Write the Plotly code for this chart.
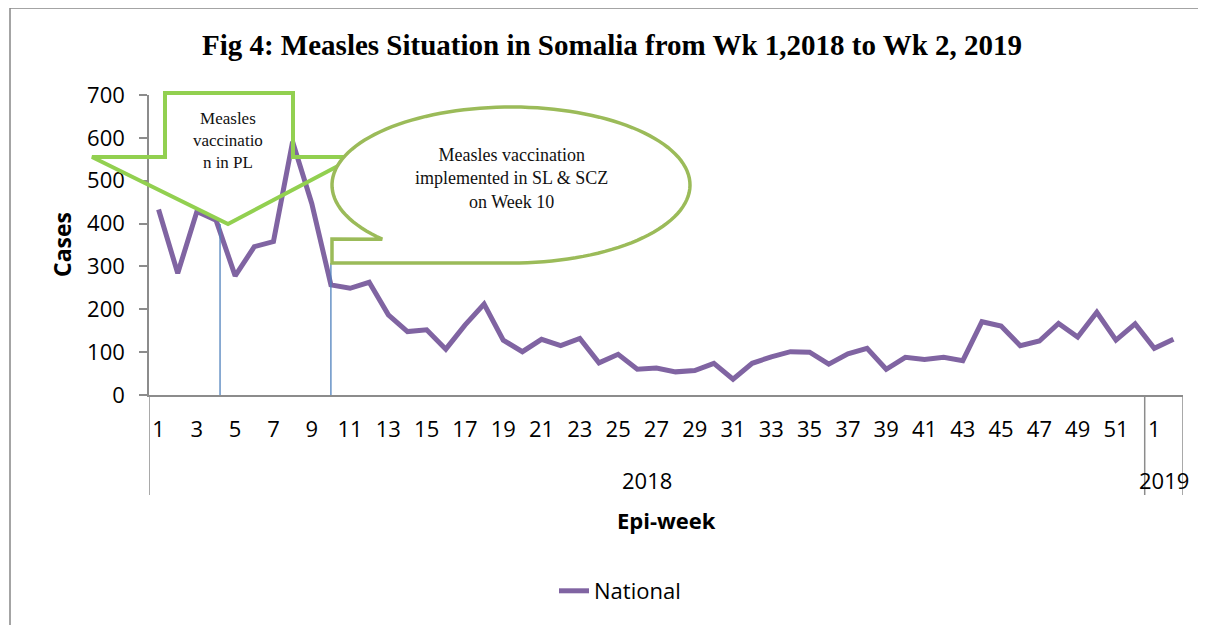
import numpy as np
import plotly.graph_objects as go

# ---------------- data ----------------
weeks_2018 = list(range(1, 53))
weeks_2019 = [1, 2]
cases_2018 = [433, 284, 428, 408, 278, 346, 358, 591, 447, 257,
              249, 263, 187, 148, 152, 107, 163, 212, 128, 101,
              130, 115, 132, 75, 95, 60, 63, 54, 57, 74,
              37, 74, 89, 101, 100, 72, 96, 109, 60, 88,
              83, 88, 80, 171, 161, 115, 126, 167, 135, 193,
              128, 166]
cases_2019 = [109, 130]
series_name = "National"
years = ["2018", "2019"]
y_ticks = [0, 100, 200, 300, 400, 500, 600, 700]

week_labels = [str(w) for w in weeks_2018] + [str(w) for w in weeks_2019]
cases = cases_2018 + cases_2019
xs = list(range(len(cases)))

# tick labels: every other week, like the reference
tick_idx = [i for i in xs if i % 2 == 0]
tick_txt = [week_labels[i] for i in tick_idx]

# ---------------- layout helpers (page pixel -> paper) ----------------
PAGE_W, PAGE_H = 1206, 625
OFF = 8  # default body margin of the html page
W, H = PAGE_W - OFF, PAGE_H - OFF
L, R, T, B = 149, 1183, 95, 395  # plot area in page pixels


def px(x):
    return (x - L) / (R - L)


def py(y):
    return (B - y) / (B - T)


SANS = "Open Sans"
SERIF = "Liberation Serif"

fig = go.Figure()
fig.add_trace(go.Scatter(
    x=xs, y=cases, mode="lines", name=series_name,
    line=dict(color="#8064A2", width=5),
))

shapes = []
ann = []

# outer frame
shapes.append(dict(type="rect", xref="paper", yref="paper",
                   x0=px(10), x1=px(1220), y0=py(8), y1=py(640),
                   line=dict(color="#878787", width=1.5), layer="below"))

# axis extensions for grouped category axis
n18 = len(cases_2018)
for xv in [-0.5, n18 - 0.5, len(cases) - 0.5]:
    shapes.append(dict(type="line", xref="x", yref="paper",
                       x0=xv, x1=xv, y0=0, y1=py(495),
                       line=dict(color="#8C8C8C", width=1.5)))

# blue marker lines
shapes.append(dict(type="line", xref="x", yref="y", x0=3.21, x1=3.21, y0=0, y1=399,
                   line=dict(color="#4F81BD", width=1.3)))
shapes.append(dict(type="line", xref="x", yref="y", x0=9.0, x1=9.0, y0=0, y1=308,
                   line=dict(color="#4F81BD", width=1.3)))

# down arrow callout
arrow_pts = [(165, 93), (293, 93), (293, 157), (355, 157), (228, 224), (92, 157), (165, 157)]
path = "M " + " L ".join(f"{px(a):.5f},{py(b):.5f}" for a, b in arrow_pts) + " Z"
shapes.append(dict(type="path", xref="paper", yref="paper", path=path,
                   line=dict(color="#92D050", width=4), fillcolor="rgba(0,0,0,0)"))

# oval callout
cx, cy, rx, ry = 511, 185, 179, 78
ts = np.linspace(np.pi / 2, np.pi / 2 - (2 * np.pi - np.radians(46)), 120)
pts = [(cx + rx * np.cos(t), cy + ry * np.sin(t)) for t in ts]
pts += [(332, 239), (332, 263)]
path2 = "M " + " L ".join(f"{px(a):.5f},{py(b):.5f}" for a, b in pts) + " Z"
shapes.append(dict(type="path", xref="paper", yref="paper", path=path2,
                   line=dict(color="#9BBB59", width=3.5), fillcolor="white"))

# texts
ann.append(dict(xref="paper", yref="paper", x=px(228), y=py(140), showarrow=False,
                xanchor="center", yanchor="middle",
                text="Measles<br>vaccinatio<br>n in PL", align="center",
                font=dict(family=SERIF, size=17, color="#111")))
ann.append(dict(xref="paper", yref="paper", x=px(511), y=py(178), showarrow=False,
                xanchor="center", yanchor="middle",
                text="Measles vaccination<br>implemented in SL &amp; SCZ<br>on Week 10", align="center",
                font=dict(family=SERIF, size=18, color="#111")))
ann.append(dict(xref="paper", yref="paper", x=px(62), y=py(245), showarrow=False,
                xanchor="center", yanchor="middle",
                text="<b>Cases</b>", textangle=-90,
                font=dict(family=SANS, size=23, color="black")))
ann.append(dict(xref="paper", yref="paper", x=px(666), y=py(520), showarrow=False,
                xanchor="center", yanchor="middle",
                text="<b>Epi-week</b>", font=dict(family=SANS, size=22, color="black")))
ann.append(dict(xref="x", yref="paper", x=(n18 - 1) / 2, y=py(480), showarrow=False,
                xanchor="center", yanchor="middle",
                text=years[0], font=dict(family=SANS, size=22, color="black")))
ann.append(dict(xref="x", yref="paper", x=n18 + (len(cases_2019) - 1) / 2, y=py(480), showarrow=False,
                xanchor="center", yanchor="middle",
                text=years[1], font=dict(family=SANS, size=22, color="black")))

fig.update_layout(
    width=W, height=H,
    margin=dict(l=L - OFF, r=PAGE_W - R, t=T - OFF, b=PAGE_H - B),
    paper_bgcolor="white", plot_bgcolor="white",
    title=dict(text="<b>Fig 4: Measles Situation in Somalia from Wk 1,2018 to Wk 2, 2019</b>",
               x=(612 - OFF) / W, xanchor="center", y=1 - (45 - OFF) / H, yanchor="middle",
               font=dict(family=SERIF, size=29, color="black")),
    xaxis=dict(range=[-0.5, len(cases) - 0.5], tickmode="array", tickvals=tick_idx, ticktext=tick_txt,
               showgrid=False, zeroline=False, showline=True, linecolor="#8C8C8C", linewidth=1.5,
               ticks="", ticklabelstandoff=14,
               tickfont=dict(family=SANS, size=22, color="black")),
    yaxis=dict(range=[0, 700], tickmode="array", tickvals=y_ticks,
               showgrid=False, zeroline=False, showline=True, linecolor="#8C8C8C", linewidth=1.5,
               ticks="outside", ticklen=8, tickcolor="#8C8C8C", tickwidth=1.5,
               ticklabelstandoff=10,
               tickfont=dict(family=SANS, size=22, color="black")),
    showlegend=True,
    legend=dict(orientation="h", x=px(620), xanchor="center", y=py(591), yanchor="middle",
                font=dict(family=SANS, size=22, color="black")),
    shapes=shapes, annotations=ann,
)

fig.write_html("out.html")
